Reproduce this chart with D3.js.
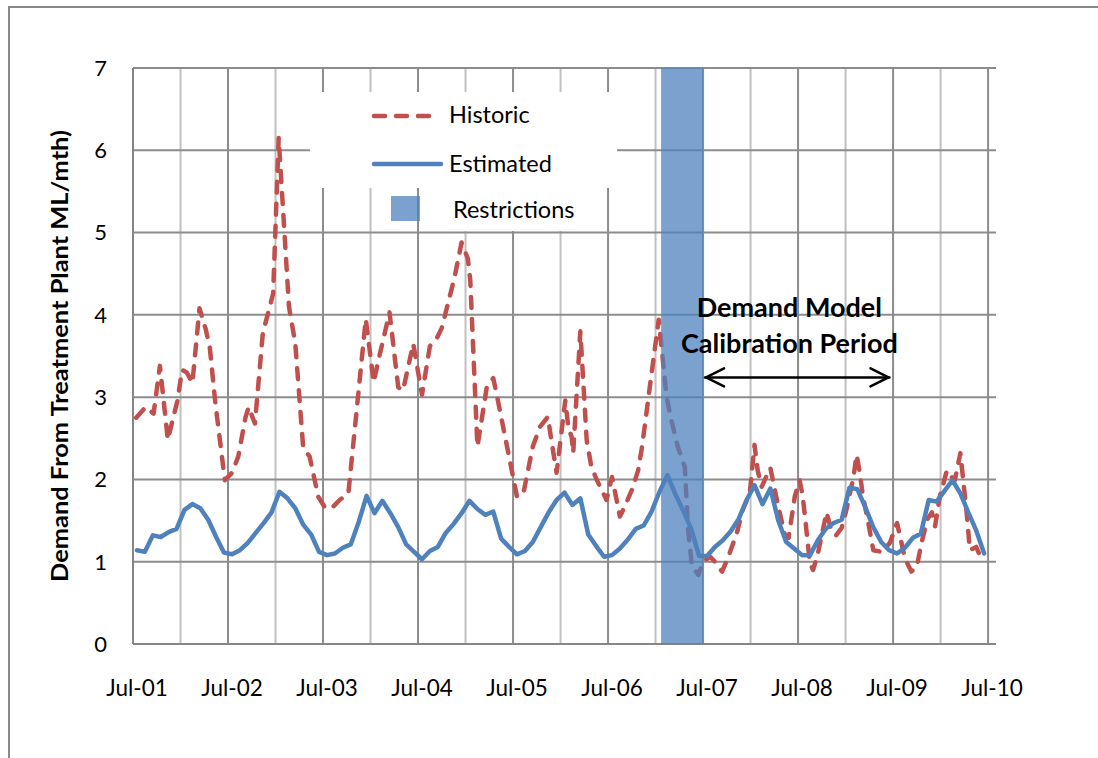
<!DOCTYPE html>
<html>
<head>
<meta charset="utf-8">
<script src="https://cdn.jsdelivr.net/npm/d3@7/dist/d3.min.js"></script>
<style>
  html, body { margin: 0; padding: 0; background: #fff; }
  svg { display: block; font-family: Lato, "Open Sans", sans-serif; }
</style>
</head>
<body>
<svg id="chart" width="1098" height="758"></svg>
<script>
// ---- DATA ----
// Estimated demand: monthly values, starting Jul-01 (month index 0), plotted mid-month
const estimatedValues = [
  1.14, 1.12, 1.32, 1.30, 1.36, 1.40, 1.63, 1.70, 1.65, 1.51, 1.30, 1.11,
  1.09, 1.14, 1.23, 1.35, 1.47, 1.60, 1.85, 1.77, 1.65, 1.45, 1.33, 1.12,
  1.08, 1.10, 1.17, 1.21, 1.48, 1.80, 1.59, 1.74, 1.59, 1.42, 1.21, 1.12,
  1.03, 1.13, 1.18, 1.35, 1.46, 1.59, 1.74, 1.64, 1.57, 1.61, 1.28, 1.18,
  1.09, 1.13, 1.24, 1.42, 1.60, 1.75, 1.84, 1.69, 1.77, 1.33, 1.19, 1.06,
  1.08, 1.16, 1.27, 1.40, 1.44, 1.61, 1.85, 2.05, 1.82, 1.62, 1.40, 1.07,
  1.07, 1.18, 1.26, 1.37, 1.52, 1.75, 1.93, 1.70, 1.89, 1.50, 1.24, 1.16,
  1.08, 1.08, 1.26, 1.40, 1.47, 1.51, 1.90, 1.88, 1.66, 1.42, 1.24, 1.14,
  1.10, 1.17, 1.29, 1.34, 1.75, 1.73, 1.86, 1.99, 1.83, 1.60, 1.38, 1.10
];

// Historic demand: irregular readings, time in months since Jul-01
const historicMonths = [
  0.4, 1.6, 2.6, 3.4, 4.4, 5.0, 5.6, 6.2, 6.8, 7.5, 8.4, 9.2, 9.7, 10.4, 11.6,
  12.5, 13.3, 14.2, 14.6, 15.4, 16.4, 17.0, 17.7, 18.4, 19.7, 20.5, 21.5, 22.3,
  23.4, 24.3, 25.3, 26.1, 27.2, 29.4, 30.4, 31.0, 31.8, 32.4, 33.5, 34.1, 35.4,
  36.5, 37.5, 38.4, 39.0, 40.6, 41.5, 42.3, 42.6, 43.5, 44.7, 45.5, 45.9, 48.5,
  49.3, 50.5, 51.4, 52.4, 52.9, 53.5, 54.6, 55.0, 55.4, 55.6, 56.5, 57.3, 57.9,
  58.6, 59.8, 60.5, 61.5, 62.1, 63.0, 63.8, 64.3, 65.5, 66.4, 67.4, 68.0, 68.8,
  69.7, 70.1, 70.6, 71.4, 72.0, 72.9, 73.7, 74.4, 75.2, 76.3, 77.0, 77.9, 78.5,
  78.9, 79.4, 80.2, 80.5, 81.5, 82.4, 82.8, 83.6, 84.2, 84.6, 85.5, 85.9, 86.5,
  87.6, 88.2, 88.8, 89.5, 90.1, 91.0, 91.4, 91.8, 92.2, 92.8, 93.5, 94.6, 95.6,
  96.5, 96.9, 97.5, 98.3, 99.0, 99.6, 100.3, 100.9, 101.3, 101.9, 102.8, 103.2,
  103.8, 104.5, 105.3, 105.7, 106.5, 107.2
];
const historicValues = [
  2.75, 2.88, 2.80, 3.38, 2.48, 2.72, 2.95, 3.33, 3.30, 3.17, 4.08, 3.82, 3.60, 2.93, 1.99,
  2.08, 2.28, 2.75, 2.88, 2.68, 3.78, 4.00, 4.26, 6.15, 4.10, 3.65, 2.38, 2.28,
  1.79, 1.65, 1.67, 1.75, 1.83, 3.95, 3.18, 3.45, 3.78, 4.03, 3.12, 3.08, 3.65,
  3.03, 3.62, 3.72, 3.84, 4.45, 4.88, 4.68, 4.42, 2.40, 3.13, 3.23, 3.05, 1.79,
  1.83, 2.40, 2.64, 2.76, 2.44, 2.08, 2.96, 2.62, 2.52, 2.32, 3.80, 2.48, 2.15,
  1.99, 1.75, 2.03, 1.55, 1.67, 1.87, 2.11, 2.40, 3.29, 3.94, 3.00, 2.72, 2.40,
  2.15, 1.40, 0.94, 0.84, 1.00, 1.06, 0.98, 0.88, 1.06, 1.36, 1.63, 1.83, 2.42,
  2.11, 1.91, 2.08, 2.14, 1.67, 1.30, 1.29, 1.80, 1.99, 1.79, 0.98, 0.90, 1.10,
  1.60, 1.38, 1.32, 1.41, 1.63, 2.03, 2.30, 2.08, 1.79, 1.51, 1.14, 1.12, 1.23,
  1.47, 1.30, 1.04, 0.88, 0.94, 1.23, 1.51, 1.60, 1.43, 1.79, 2.11, 2.05,
  1.99, 2.32, 1.59, 1.14, 1.18, 1.02
];

const xTickLabels = ["Jul-01","Jul-02","Jul-03","Jul-04","Jul-05","Jul-06","Jul-07","Jul-08","Jul-09","Jul-10"];
const yTicks = [0, 1, 2, 3, 4, 5, 6, 7];
const restrictionPeriod = [66.7, 72];     // months since Jul-01
const calibrationPeriod = [72, 95.8];     // months since Jul-01
const axisTitle = "Demand From Treatment Plant ML/mth)";
const legendLabels = ["Historic", "Estimated", "Restrictions"];
const annotationLines = ["Demand Model", "Calibration Period"];

// ---- DRAW ----
const svg = d3.select("#chart");
const plot = { left: 133, right: 996, top: 68, bottom: 644 };
const x = d3.scaleLinear().domain([0, 109]).range([plot.left, plot.right]);
const y = d3.scaleLinear().domain([0, 7]).range([plot.bottom, plot.top]);

const red = "#c0504d", blue = "#4f81bd";

// outer frame
svg.append("rect").attr("x", 9).attr("y", 7).attr("width", 1200).attr("height", 900)
  .attr("fill", "none").attr("stroke", "#888").attr("stroke-width", 2);

// vertical gridlines every 6 months
const vTicks = d3.range(0, 109, 6);
svg.append("g").selectAll("line").data(vTicks).join("line")
  .attr("x1", d => x(d)).attr("x2", d => x(d))
  .attr("y1", plot.top).attr("y2", plot.bottom)
  .attr("stroke", d => d % 12 === 0 ? "#8c8c8c" : "#c0c0c0")
  .attr("stroke-width", 2);

// horizontal gridlines
svg.append("g").selectAll("line").data(yTicks.filter(d => d > 0)).join("line")
  .attr("x1", plot.left).attr("x2", plot.right)
  .attr("y1", d => y(d)).attr("y2", d => y(d))
  .attr("stroke", "#8c8c8c").attr("stroke-width", 2);

// axes lines
svg.append("line").attr("x1", plot.left).attr("x2", plot.left)
  .attr("y1", plot.top).attr("y2", plot.bottom).attr("stroke", "#868686").attr("stroke-width", 2);
svg.append("line").attr("x1", plot.left).attr("x2", plot.right)
  .attr("y1", plot.bottom).attr("y2", plot.bottom).attr("stroke", "#868686").attr("stroke-width", 2);

// y tick labels
svg.append("g").selectAll("text").data(yTicks).join("text")
  .attr("x", 107).attr("y", d => y(d)).attr("dy", "0.36em")
  .attr("text-anchor", "end").attr("font-size", 22).attr("fill", "#000")
  .text(d => d);

// x tick labels
svg.append("g").selectAll("text").data(xTickLabels).join("text")
  .attr("x", (d, i) => x(i * 12) + 4).attr("y", 696)
  .attr("text-anchor", "middle").attr("font-size", 22.5).attr("fill", "#000")
  .text(d => d);

// y axis title
svg.append("text")
  .attr("transform", "translate(68,356) rotate(-90)")
  .attr("text-anchor", "middle").attr("font-size", 23).attr("font-weight", "bold")
  .attr("textLength", 452).attr("lengthAdjust", "spacingAndGlyphs")
  .text(axisTitle);

// historic line
const historic = historicMonths.map((m, i) => [m, historicValues[i]]);
const line = d3.line().x(d => x(d[0])).y(d => y(d[1]));
svg.append("path").datum(historic).attr("d", line)
  .attr("fill", "none").attr("stroke", red).attr("stroke-width", 4.5)
  .attr("stroke-dasharray", "11,11").attr("stroke-linecap", "round").attr("stroke-linejoin", "round");

// restriction band
svg.append("rect")
  .attr("x", x(restrictionPeriod[0])).attr("width", x(restrictionPeriod[1]) - x(restrictionPeriod[0]))
  .attr("y", plot.top).attr("height", plot.bottom - plot.top)
  .attr("fill", blue).attr("fill-opacity", 0.75);

// estimated line
const estimated = estimatedValues.map((v, i) => [i + 0.5, v]);
svg.append("path").datum(estimated).attr("d", line)
  .attr("fill", "none").attr("stroke", blue).attr("stroke-width", 4.5)
  .attr("stroke-linecap", "round").attr("stroke-linejoin", "round");

// legend backgrounds
svg.append("rect").attr("x", 310).attr("y", 92).attr("width", 307).attr("height", 96).attr("fill", "#fff");
svg.append("rect").attr("x", 425).attr("y", 187).attr("width", 182).attr("height", 44).attr("fill", "#fff");

// legend items
svg.append("line").attr("x1", 374).attr("x2", 431).attr("y1", 116).attr("y2", 116)
  .attr("stroke", red).attr("stroke-width", 4.5).attr("stroke-dasharray", "11,11").attr("stroke-linecap", "round");
svg.append("line").attr("x1", 374).attr("x2", 441).attr("y1", 164).attr("y2", 164)
  .attr("stroke", blue).attr("stroke-width", 4.5).attr("stroke-linecap", "round");
svg.append("rect").attr("x", 391).attr("y", 196).attr("width", 29).attr("height", 25)
  .attr("fill", blue).attr("fill-opacity", 0.75);
const legendPos = [[449, 123], [449, 172], [453, 218]];
svg.append("g").selectAll("text").data(legendLabels).join("text")
  .attr("x", (d, i) => legendPos[i][0]).attr("y", (d, i) => legendPos[i][1])
  .attr("font-size", 23.5).attr("fill", "#000").text(d => d);

// annotation
const annoX = x(82.9);
svg.append("g").selectAll("text").data(annotationLines).join("text")
  .attr("x", annoX).attr("y", (d, i) => y(3.97) + i * 36)
  .attr("text-anchor", "middle").attr("font-size", 27).attr("font-weight", "bold")
  .text(d => d);

// double-headed arrow
const ay = y(3.24), ax1 = x(calibrationPeriod[0]), ax2 = x(calibrationPeriod[1]);
const ag = svg.append("g").attr("stroke", "#000").attr("stroke-width", 2.5).attr("fill", "none")
  .attr("stroke-linecap", "round").attr("stroke-linejoin", "round");
ag.append("line").attr("x1", ax1 + 2).attr("x2", ax2 - 2).attr("y1", ay).attr("y2", ay);
ag.append("path").attr("d", `M${ax1 + 21},${ay - 9} L${ax1 + 3},${ay} L${ax1 + 21},${ay + 9}`);
ag.append("path").attr("d", `M${ax2 - 21},${ay - 9} L${ax2 - 3},${ay} L${ax2 - 21},${ay + 9}`);
</script>
</body>
</html>
